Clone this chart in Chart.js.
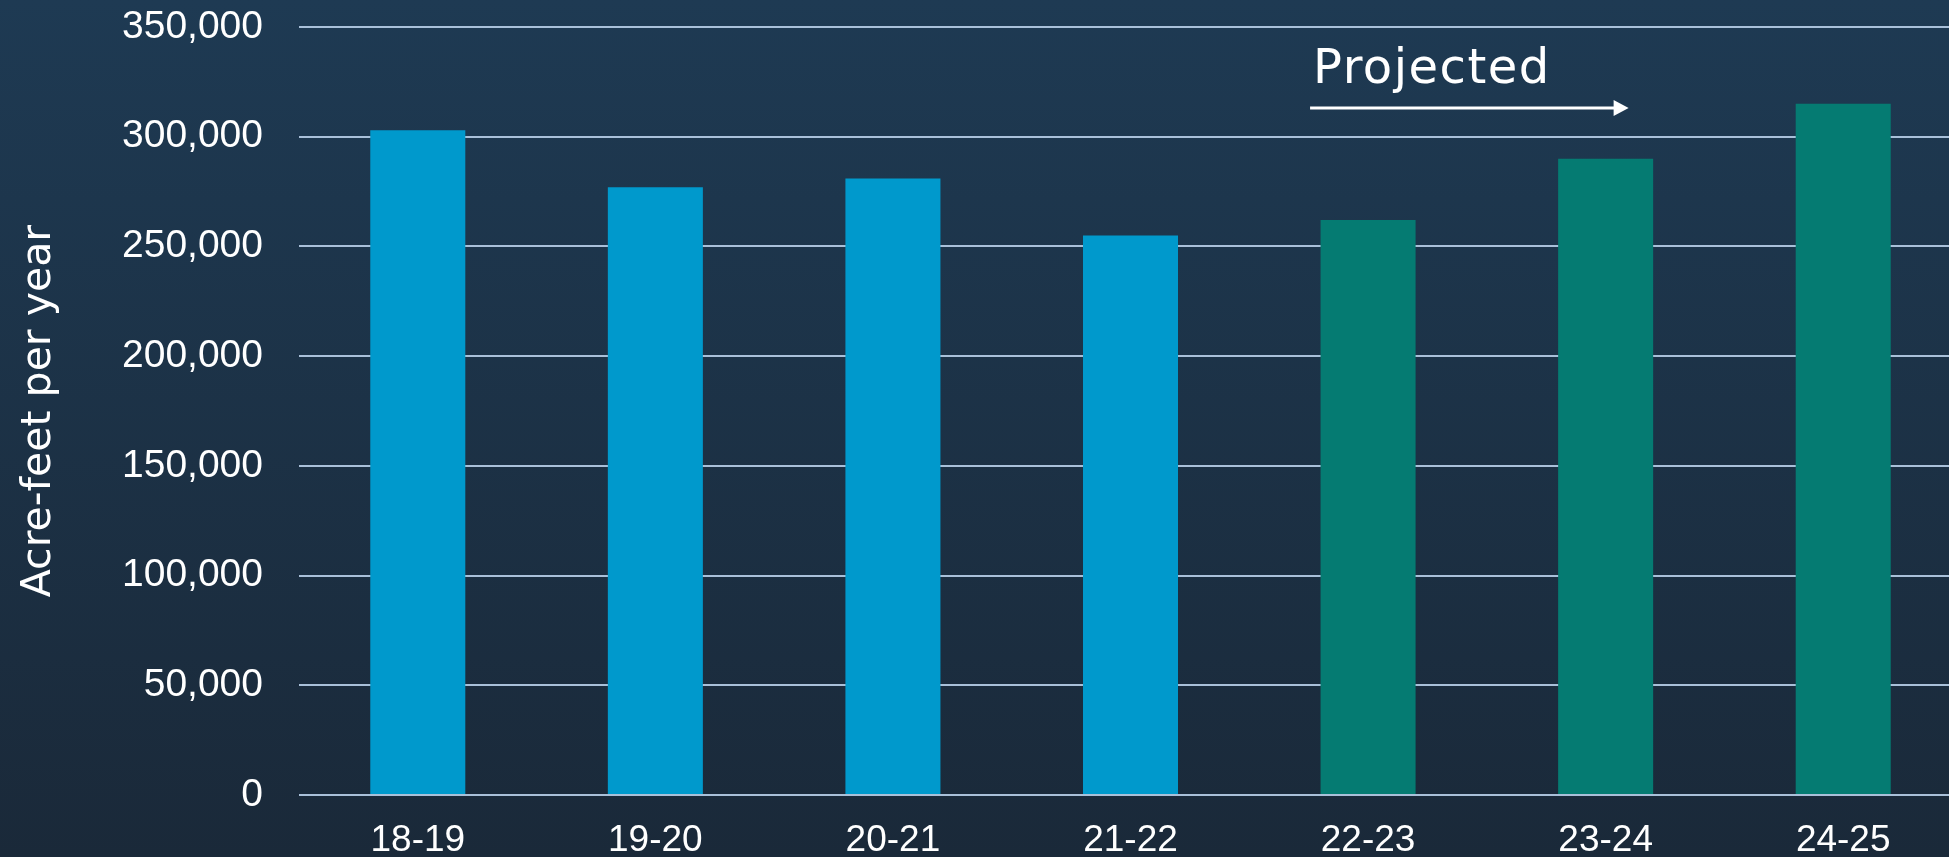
<!DOCTYPE html>
<html>
<head>
<meta charset="utf-8">
<script src="https://cdn.jsdelivr.net/npm/chart.js@4"></script>
<style>
  html, body { margin: 0; padding: 0; overflow: hidden; }
  body { width: 1949px; height: 857px; background: linear-gradient(to bottom, #1e3a53, #1a2939); }
  #wrap { width: 1962px; height: 857px; position: relative; }
</style>
</head>
<body>
<div id="wrap"><canvas id="Grafica"></canvas></div>
<script>
const years = ['18-19', '19-20', '20-21', '21-22', '22-23', '23-24', '24-25'];
const acreFeet = [303000, 277000, 281000, 255000, 262000, 290000, 315000];
const isProjected = [false, false, false, false, true, true, true];

const Y_MAX = 350000;
const Y_STEP = 50000;

const ACTUAL_COLOR = '#0099cc';
const PROJECTED_COLOR = '#057b72';
const GRID_COLOR = '#a9c0d9';

// "Projected" label + arrow over the last three bars
const projectedNote = {
  id: 'projectedNote',
  afterDraw(chart) {
    const ctx = chart.ctx;
    const x = chart.scales.x;
    const top = chart.chartArea.top;
    const firstProj = isProjected.indexOf(true);
    const startX = x.getPixelForValue(firstProj) - 58;
    const endX = x.getPixelForValue(firstProj + 1) + 23;
    const arrowY = top + 81;

    ctx.save();
    ctx.fillStyle = '#ffffff';
    ctx.strokeStyle = '#ffffff';
    ctx.font = '48px "DejaVu Sans"';
    ctx.letterSpacing = '1.5px';
    ctx.textBaseline = 'alphabetic';
    ctx.fillText('Projected', startX + 3, top + 56);

    ctx.lineWidth = 3;
    ctx.beginPath();
    ctx.moveTo(startX, arrowY);
    ctx.lineTo(endX - 14, arrowY);
    ctx.stroke();
    ctx.beginPath();
    ctx.moveTo(endX, arrowY);
    ctx.lineTo(endX - 15, arrowY - 8);
    ctx.lineTo(endX - 15, arrowY + 8);
    ctx.closePath();
    ctx.fill();
    ctx.restore();
  }
};

const data = {
  labels: years,
  datasets: [{
    data: acreFeet,
    backgroundColor: isProjected.map(p => p ? PROJECTED_COLOR : ACTUAL_COLOR),
    barPercentage: 0.4,
    categoryPercentage: 1.0,
    borderWidth: 0
  }]
};

const config = {
  type: 'bar',
  data: data,
  options: {
    responsive: true,
    maintainAspectRatio: false,
    animation: false,
    layout: { padding: { top: 27, left: 0, right: 0, bottom: 0 } },
    plugins: {
      legend: { display: false },
      title: { display: false },
      tooltip: { enabled: false }
    },
    scales: {
      x: {
        grid: { display: false },
        border: { display: false },
        ticks: {
          color: '#ffffff',
          font: { family: '"Liberation Sans", Arial', size: 37 },
          padding: 16,
          maxRotation: 0
        },
        afterFit(scale) { scale.height = 62; }
      },
      y: {
        min: 0,
        max: Y_MAX,
        border: { display: false },
        grid: { color: GRID_COLOR, lineWidth: 2, drawTicks: false },
        ticks: {
          stepSize: Y_STEP,
          color: '#ffffff',
          padding: 36,
          font: { family: '"Liberation Sans", Arial', size: 39 },
          callback: v => v.toLocaleString('en-US')
        },
        title: {
          display: true,
          text: 'Acre-feet per year',
          color: '#ffffff',
          font: { family: '"DejaVu Sans"', size: 41 },
          padding: { top: 15, bottom: 0 }
        },
        afterFit(scale) {
          scale.width = 299;
          scale.paddingTop = 0;
          scale.paddingBottom = 0;
        }
      }
    }
  },
  plugins: [projectedNote]
};

const chart = new Chart(document.getElementById('Grafica'), config);
</script>
</body>
</html>
